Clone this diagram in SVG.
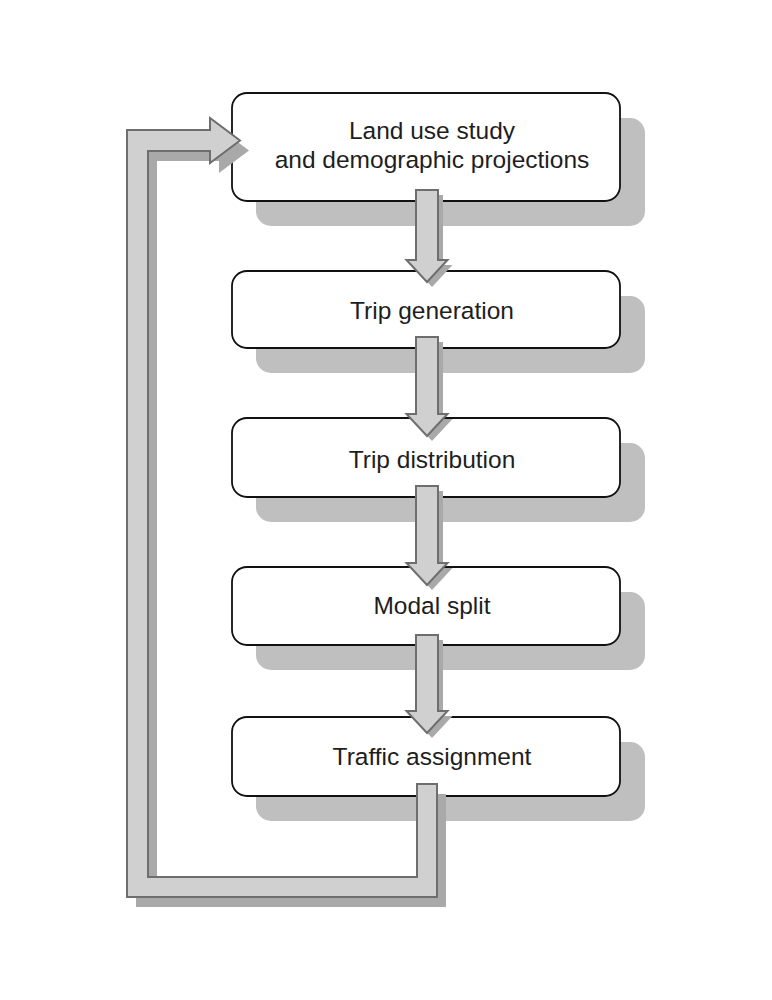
<svg xmlns="http://www.w3.org/2000/svg" width="772" height="1000" viewBox="0 0 772 1000">
<style>
.shadow{fill:#bfbfbf;}
.box{fill:#ffffff;stroke:#111;stroke-width:1.8;}
.lbl{font-family:"Liberation Sans",Arial,sans-serif;font-size:24.5px;fill:#1e1e1e;text-anchor:middle;}
.arr{fill:#d0d0d0;stroke:#6e6e6e;stroke-width:2;stroke-linejoin:miter;}
.arrsh{fill:#a9a9a9;}
</style>
<rect width="772" height="1000" fill="#ffffff"/>
<g id="shadows">
<rect class="shadow" x="256" y="118" width="389" height="108" rx="15"/>
<rect class="shadow" x="256" y="296" width="389" height="77" rx="15"/>
<rect class="shadow" x="256" y="443" width="389" height="79" rx="15"/>
<rect class="shadow" x="256" y="592" width="389" height="78" rx="15"/>
<rect class="shadow" x="256" y="742" width="389" height="79" rx="15"/>
</g>
<g id="n1">
<rect class="box" x="232" y="93" width="388" height="108" rx="15"/>
<text class="lbl" x="432" y="139">Land use study</text>
<text class="lbl" x="432" y="168">and demographic projections</text>
</g>
<g id="n2">
<rect class="box" x="232" y="271" width="388" height="77" rx="15"/>
<text class="lbl" x="432" y="319">Trip generation</text>
</g>
<g id="n3">
<rect class="box" x="232" y="418" width="388" height="79" rx="15"/>
<text class="lbl" x="432" y="468">Trip distribution</text>
</g>
<g id="n4">
<rect class="box" x="232" y="567" width="388" height="78" rx="15"/>
<text class="lbl" x="432" y="614">Modal split</text>
</g>
<g id="n5">
<rect class="box" x="232" y="717" width="388" height="79" rx="15"/>
<text class="lbl" x="432" y="765">Traffic assignment</text>
</g>
<g id="connectors">
<defs>
<path id="a1" d="M416,190 L438,190 L438,260 L447.5,260 L427,282 L406.5,260 L416,260 Z"/>
<path id="a2" d="M416,337 L438,337 L438,414 L447.5,414 L427,436 L406.5,414 L416,414 Z"/>
<path id="a3" d="M416,486 L438,486 L438,563 L447.5,563 L427,585 L406.5,563 L416,563 Z"/>
<path id="a4" d="M416,635 L438,635 L438,711 L447.5,711 L427,733 L406.5,711 L416,711 Z"/>
<path id="loop" d="M417,784 L437,784 L437,897 L127,897 L127,130 L210,130 L210,118 L240,140.5 L210,163 L210,151 L148,151 L148,877 L417,877 Z"/>
</defs>
<use href="#a1" class="arrsh" transform="translate(5,5)"/>
<use href="#a2" class="arrsh" transform="translate(5,5)"/>
<use href="#a3" class="arrsh" transform="translate(5,5)"/>
<use href="#a4" class="arrsh" transform="translate(5,5)"/>
<use href="#loop" class="arrsh" transform="translate(9,10)"/>
<use href="#a1" class="arr"/>
<use href="#a2" class="arr"/>
<use href="#a3" class="arr"/>
<use href="#a4" class="arr"/>
<use href="#loop" class="arr"/>
</g>
</svg>
